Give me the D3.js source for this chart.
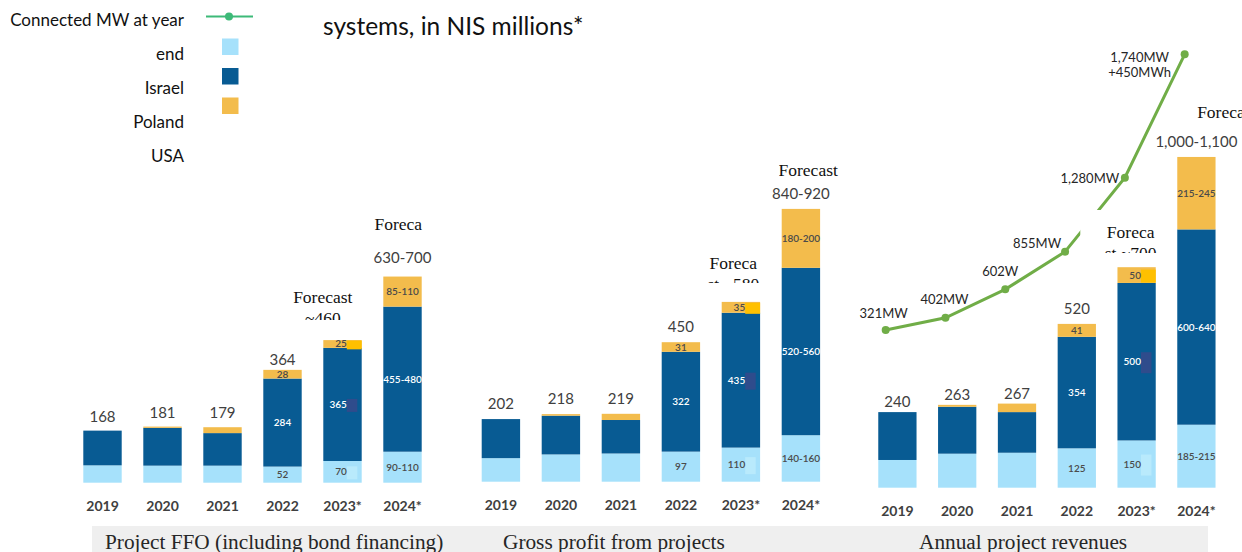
<!DOCTYPE html>
<html>
<head>
<meta charset="utf-8">
<script src="https://cdn.jsdelivr.net/npm/d3@7"></script>
<style>
  body { margin: 0; background: #fff; }
  svg { display: block; font-family: Lato, "Open Sans", sans-serif; }
</style>
</head>
<body>
<svg id="chart" width="1242" height="552"></svg>
<script>
// ---- data (NIS millions) ----
var years = ['2019', '2020', '2021', '2022', '2023*', '2024*'];

var ffoLight  = [56, 55, 55, 52, 70, 100];
var ffoDark   = [112, 122, 105, 284, 365, 468];
var ffoYellow = [0, 4, 19, 28, 25, 97];
var ffoLightLabels  = [null, null, null, '52', '70', '90-110'];
var ffoDarkLabels   = [null, null, null, '284', '365', '455-480'];
var ffoYellowLabels = [null, null, null, '28', '25', '85-110'];
var ffoTotals = ['168', '181', '179', '364', null, '630-700'];

var gpLight  = [76, 88, 91, 97, 110, 150];
var gpDark   = [126, 125, 108, 322, 435, 540];
var gpYellow = [0, 5, 20, 31, 35, 190];
var gpLightLabels  = [null, null, null, '97', '110', '140-160'];
var gpDarkLabels   = [null, null, null, '322', '435', '520-560'];
var gpYellowLabels = [null, null, null, '31', '35', '180-200'];
var gpTotals = ['202', '218', '219', '450', null, '840-920'];

var revLight  = [88, 108, 111, 125, 150, 200];
var revDark   = [152, 149, 129, 354, 500, 620];
var revYellow = [0, 6, 27, 41, 50, 230];
var revLightLabels  = [null, null, null, '125', '150', '185-215'];
var revDarkLabels   = [null, null, null, '354', '500', '600-640'];
var revYellowLabels = [null, null, null, '41', '50', '215-245'];
var revTotals = ['240', '263', '267', '520', null, '1,000-1,100'];

// connected capacity line (values as plotted on the hidden axis) + its labels
var mwPlotted = [321, 398, 577, 814, 1280, 2057];
var mwLabels = [['321MW'], ['402MW'], ['602W'], ['855MW'], ['1,280MW'], ['1,740MW', '+450MWh']];

var legendLabels = ['Connected MW at year', 'end', 'Israel', 'Poland', 'USA'];
var captions = ['Project FFO (including bond financing)', 'Gross profit from projects', 'Annual project revenues'];

// forecast call-outs (text boxes from the slide, partly cut off)
var forecastNotes = [
  { panel: 0, year: '2023*', lines: ['Forecast', '~460'] },
  { panel: 0, year: '2024*', lines: ['Foreca'] },
  { panel: 1, year: '2023*', lines: ['Foreca', 'st ~580'] },
  { panel: 1, year: '2024*', lines: ['Forecast'] },
  { panel: 2, year: '2023*', lines: ['Foreca', 'st ~700'] },
  { panel: 2, year: '2024*', lines: ['Foreca'] }
];

// ---- styling / layout ----
var colors = { light: '#A6E1FB', dark: '#085B93', yellow: '#F3BC4C' };
var glitch = { light: '#B9EAFC', dark: '#2F4C8C', yellow: '#FFC000' };
var lineGreen = '#70AD47';

var panels = [
  { light: ffoLight, dark: ffoDark, yellow: ffoYellow,
    labels: { light: ffoLightLabels, dark: ffoDarkLabels, yellow: ffoYellowLabels },
    totals: ffoTotals, x0: 72.5, step: 60, base: 482.7, k: 0.31, capX: 105 },
  { light: gpLight, dark: gpDark, yellow: gpYellow,
    labels: { light: gpLightLabels, dark: gpDarkLabels, yellow: gpYellowLabels },
    totals: gpTotals, x0: 470.9, step: 60, base: 481.7, k: 0.31, capX: 503 },
  { light: revLight, dark: revDark, yellow: revYellow,
    labels: { light: revLightLabels, dark: revDarkLabels, yellow: revYellowLabels },
    totals: revTotals, x0: 867.5, step: 59.8, base: 487.7, k: 0.315, capX: 919 }
];

// call-out box geometry, relative to the bar's left edge; tc = text centre offset
var noteBoxes = [
  { dx: -36, w: 72, tc: -0.5, top: 285, bottom: 320, firstBase: 303.3 },
  { dx: -14, w: 56, tc: 15, top: 210, bottom: 236, firstBase: 229.5 },
  { dx: -25, w: 72, tc: 11.6, top: 250, bottom: 283, firstBase: 269.3 },
  { dx: -3, w: 66, tc: 26.5, top: 160, bottom: 185, firstBase: 176 },
  { dx: -37.3, w: 80, tc: 13.2, top: 210, bottom: 253, firstBase: 237.5, white: true },
  { dx: 18, w: 70, tc: 43.7, top: 100, bottom: 125, firstBase: 118.3 }
];
var mwLabelOffsets = [[-2, -12], [-1, -13.7], [-5, -13], [-28, -4], [-35, 5.5], [-45, 7.4]];

var svg = d3.select('#chart');
var keys = ['light', 'dark', 'yellow'];
var stack = d3.stack().keys(keys);

// caption band
svg.append('rect')
  .attr('x', 92).attr('y', 526).attr('width', 1116).attr('height', 26)
  .attr('fill', '#EFEFEF');

var scales = [];

panels.forEach(function(p, pi) {
  var x = d3.scaleBand().domain(years)
    .range([p.x0, p.x0 + p.step * years.length])
    .paddingInner(0.36).paddingOuter(0.18);
  var y = d3.scaleLinear().domain([0, 1000]).range([p.base, p.base - 1000 * p.k]);
  scales.push({ x: x, y: y });

  var rows = years.map(function(yr, i) {
    return { year: yr, light: p.light[i], dark: p.dark[i], yellow: p.yellow[i], i: i };
  });
  var series = stack(rows);

  var g = svg.append('g').attr('class', 'panel');

  series.forEach(function(s) {
    var key = s.key;
    g.selectAll('rect.' + key).data(s).enter().append('rect')
      .attr('class', key)
      .attr('x', function(d) { return x(d.data.year); })
      .attr('width', x.bandwidth())
      .attr('y', function(d) { return y(d[1]); })
      .attr('height', function(d) { return y(d[0]) - y(d[1]); })
      .attr('fill', colors[key]);

    // segment labels
    s.forEach(function(d) {
      var txt = p.labels[key][d.data.i];
      if (!txt) return;
      var cy = (y(d[0]) + y(d[1])) / 2;
      var is2023 = d.data.year === '2023*';
      var left = x(d.data.year);
      if (is2023) {
        // odd leftover boxes next to the 2023 labels on the slide
        var gh = key === 'yellow' ? Math.min(9 + pi * 2, y(d[0]) - y(d[1]) + 1) : 13 + pi * 4;
        g.append('rect')
          .attr('x', left + 23.5).attr('width', key === 'yellow' ? x.bandwidth() - 23.5 : 10.5)
          .attr('y', cy - gh / 2 + 1).attr('height', gh)
          .attr('fill', glitch[key]);
      }
      g.append('text')
        .attr('x', is2023 ? left + 23.5 : left + x.bandwidth() / 2)
        .attr('y', cy)
        .attr('dy', '0.35em')
        .attr('text-anchor', is2023 ? 'end' : 'middle')
        .style('font-size', '10px')
        .style('font-weight', 600)
        .attr('fill', key === 'dark' ? '#ffffff' : '#4a4a4a')
        .text(txt);
    });
  });

  // totals above bars
  var tops = series[series.length - 1];
  tops.forEach(function(d) {
    var txt = p.totals[d.data.i];
    if (!txt) return;
    var off = (pi === 2 && d.data.i < 3) ? 5 : 10;
    if (pi === 0 && d.data.i < 3) off = 9;
    if (pi === 0 && d.data.i === 3) off = 5;
    if (pi === 0 && d.data.i === 5) off = 14;
    g.append('text')
      .attr('x', x(d.data.year) + x.bandwidth() / 2)
      .attr('y', y(d[1]) - off)
      .attr('text-anchor', 'middle')
      .style('font-size', '15px')
      .attr('fill', '#404040')
      .text(txt);
  });

  // year axis
  var axis = g.append('g')
    .attr('transform', 'translate(0,' + p.base + ')')
    .call(d3.axisBottom(x).tickSize(0).tickPadding(18));
  axis.select('.domain').remove();
  axis.selectAll('text')
    .attr('fill', '#404040')
    .style('font-family', 'Lato, sans-serif')
    .style('font-size', '14px')
    .style('font-weight', 700);

  // caption (cut by the slide's lower edge, as in the source)
  svg.append('text')
    .attr('x', p.capX).attr('y', 548.5)
    .style('font-family', '"Liberation Serif", "Times New Roman", serif')
    .style('font-size', '21.3px')
    .attr('fill', '#262626')
    .text(captions[pi]);
});

// connected MW line on the revenues panel
var xr = scales[2].x;
var yLine = d3.scaleLinear().domain([0, 2000]).range([381, 63.4]);
var lineX = function(d, i) { return xr(years[i]) + 7.4; };
var line = d3.line().x(lineX).y(function(d) { return yLine(d); });

svg.append('path')
  .datum(mwPlotted)
  .attr('d', line)
  .attr('fill', 'none')
  .attr('stroke', lineGreen)
  .attr('stroke-width', 3);

svg.selectAll('circle.mw').data(mwPlotted).enter().append('circle')
  .attr('class', 'mw')
  .attr('cx', lineX)
  .attr('cy', function(d) { return yLine(d); })
  .attr('r', 4)
  .attr('fill', lineGreen);

mwLabels.forEach(function(lines, i) {
  var t = svg.append('text')
    .attr('text-anchor', 'middle')
    .style('font-size', '13px')
    .attr('fill', '#262626');
  lines.forEach(function(l, j) {
    t.append('tspan')
      .attr('x', lineX(null, i) + mwLabelOffsets[i][0])
      .attr('y', yLine(mwPlotted[i]) + mwLabelOffsets[i][1] + j * 15)
      .text(l);
  });
});

// forecast call-outs
var defs = svg.append('defs');
forecastNotes.forEach(function(n, ni) {
  var b = noteBoxes[ni];
  var x = scales[n.panel].x;
  var left = x(n.year);
  var bx = left + b.dx;
  var id = 'noteclip' + ni;
  defs.append('clipPath').attr('id', id).append('rect')
    .attr('x', bx).attr('y', b.top).attr('width', b.w).attr('height', b.bottom - b.top);
  var g = svg.append('g').attr('clip-path', 'url(#' + id + ')');
  if (b.white) {
    g.append('rect').attr('x', bx).attr('y', b.top)
      .attr('width', b.w).attr('height', b.bottom - b.top).attr('fill', '#fff');
  }
  n.lines.forEach(function(l, j) {
    g.append('text')
      .attr('x', left + b.tc)
      .attr('y', b.firstBase + j * 21)
      .attr('text-anchor', 'middle')
      .style('font-family', '"Liberation Serif", "Times New Roman", serif')
      .style('font-size', '17.5px')
      .attr('fill', '#111')
      .text(l);
  });
});

// title (second line of the slide heading)
svg.append('text')
  .attr('x', 323).attr('y', 35)
  .style('font-size', '24.5px')
  .attr('fill', '#111')
  .text('systems, in NIS millions*');

// legend
var lg = svg.append('g');
legendLabels.forEach(function(l, i) {
  lg.append('text')
    .attr('x', 184).attr('y', 26 + i * 34)
    .attr('text-anchor', 'end')
    .style('font-size', '17px')
    .attr('fill', '#111')
    .text(l);
});
lg.append('line').attr('x1', 206).attr('x2', 253).attr('y1', 16.5).attr('y2', 16.5)
  .attr('stroke', '#3DBA78').attr('stroke-width', 2);
lg.append('circle').attr('cx', 229).attr('cy', 16.5).attr('r', 4).attr('fill', '#3DBA78');
keys.forEach(function(k, i) {
  lg.append('rect')
    .attr('x', 222).attr('y', 38.5 + i * 29.5)
    .attr('width', 16.5).attr('height', 16.5)
    .attr('fill', colors[k]);
});
</script>
</body>
</html>
